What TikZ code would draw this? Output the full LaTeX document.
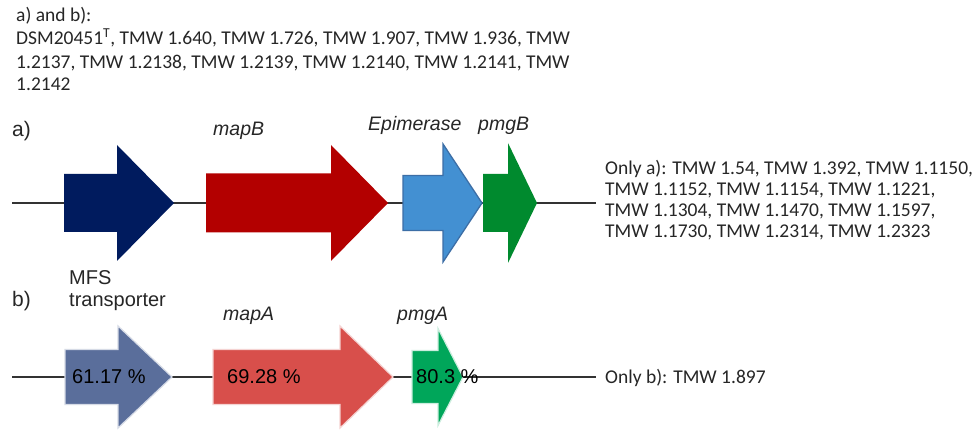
\documentclass[tikz,border=0pt]{standalone}
\usepackage{fontspec}
\setmainfont{Carlito}
\newfontfamily\arialf{Liberation Sans}
\definecolor{navyA}{HTML}{001B5E}
\definecolor{redA}{HTML}{B30000}
\definecolor{lblueA}{HTML}{4390D2}
\definecolor{lblueEdge}{HTML}{3C6EA6}
\definecolor{greenA}{HTML}{008A2E}
\definecolor{blueB}{HTML}{5A6E9B}
\definecolor{redB}{HTML}{D84F4B}
\definecolor{greenB}{HTML}{00A65A}
\definecolor{backbone}{HTML}{333333}
\tikzset{
  listtext/.style={font=\fontsize{19.5}{23}\selectfont, anchor=base west, inner sep=0pt, text=black!85},
  genelabel/.style={font=\arialf\fontsize{20}{24}\selectfont, anchor=base west, inner sep=0pt, text=black!85},
  geneital/.style={genelabel, font=\arialf\itshape\fontsize{19.5}{24}\selectfont},
  pctlabel/.style={font=\arialf\fontsize{20}{24}\selectfont, anchor=base west, inner sep=0pt, text=black},
  panellabel/.style={font=\arialf\fontsize{21}{24}\selectfont, anchor=base west, inner sep=0pt, text=black!85},
  bline/.style={draw=backbone, line width=1.5pt},
}
% gene arrow: x0, xhead, xtip, ycenter, body half height, head half height
\newcommand{\genearrow}[7]{%
  \path[#1] (#2,#5-#6) -- (#3,#5-#6) -- (#3,#5-#7) -- (#4,#5) -- (#3,#5+#7) -- (#3,#5+#6) -- (#2,#5+#6) -- cycle;}
\begin{document}
\begin{tikzpicture}[x=1pt,y=-1pt]
\useasboundingbox[fill=white] (0,0) rectangle (975,435);

% top list
\node[listtext] (t1) at (16,21.5) {a) and b):};
\node[listtext] (t2) at (16,45) {DSM20451\textsuperscript{T}, TMW 1.640, TMW 1.726, TMW 1.907, TMW 1.936, TMW};
\node[listtext] (t3) at (16,68.3) {1.2137, TMW 1.2138, TMW 1.2139, TMW 1.2140, TMW 1.2141, TMW};
\node[listtext] (t4) at (16,91) {1.2142};

% panel a
\node[panellabel] (pa) at (12,137) {a)};
\coordinate (la0) at (12,203);
\coordinate (la1) at (596,203);
\draw[bline] (la0) -- (la1);
\genearrow{fill=navyA}{64}{117}{174}{203}{29}{58}
\genearrow{fill=redA}{206}{331}{388}{203}{29.5}{58}
\genearrow{fill=lblueA, draw=lblueEdge, line width=1.3pt}{403}{443}{482}{203}{27.5}{59}
\genearrow{fill=greenA}{483}{508}{537}{203}{29}{60}
\node[geneital] (mapB) at (213,136) {mapB};
\node[geneital] (epi) at (368,131) {Epimerase};
\node[geneital] (pmgB) at (478,131) {pmgB};

\node[listtext] (oa1) at (605,175) {Only a): TMW 1.54, TMW 1.392, TMW 1.1150,};
\node[listtext] (oa2) at (605,195.8) {TMW 1.1152, TMW 1.1154, TMW 1.1221,};
\node[listtext] (oa3) at (605,216.6) {TMW 1.1304, TMW 1.1470, TMW 1.1597,};
\node[listtext] (oa4) at (605,237.4) {TMW 1.1730, TMW 1.2314, TMW 1.2323};

% panel b
\node[genelabel] (mfs1) at (69,285) {MFS};
\node[genelabel] (mfs2) at (69,307) {transporter};
\node[panellabel] (pb) at (12,307) {b)};
\node[geneital] (mapA) at (223,321) {mapA};
\node[geneital] (pmgA) at (397,321) {pmgA};
\coordinate (lb0) at (12,377);
\coordinate (lb1) at (596,377);
\draw[bline] (lb0) -- (lb1);
\genearrow{fill=blueB, draw=blueB!25, line width=1.2pt}{65}{118}{172}{377}{27.5}{51}
\genearrow{fill=redB, draw=redB!25, line width=1.2pt}{213}{340}{393}{377}{27.5}{51}
\genearrow{fill=greenB, draw=greenB!20, line width=1.2pt}{412}{438}{463}{377}{26.5}{48.5}
\node[pctlabel] (p1) at (72,384) {61.17 \%};
\node[pctlabel] (p2) at (227,384) {69.28 \%};
\node[pctlabel] (p3) at (416,384) {80.3 \%};
\node[listtext] (ob) at (605,383.5) {Only b): TMW 1.897};
\end{tikzpicture}
\end{document}
